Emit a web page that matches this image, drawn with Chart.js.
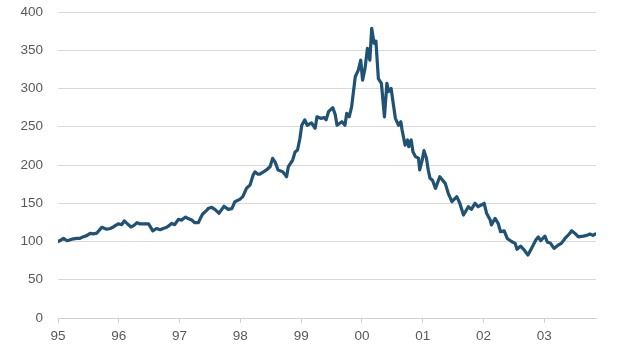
<!DOCTYPE html>
<html>
<head>
<meta charset="utf-8">
<script src="https://cdn.jsdelivr.net/npm/chart.js@4/dist/chart.umd.min.js"></script>
<style>
  html, body { margin: 0; padding: 0; background: #ffffff; }
  #wrap { width: 619px; height: 355px; position: relative; }
</style>
</head>
<body>
<div id="wrap"><canvas id="c" width="619" height="355"></canvas></div>
<script>
// Time in decimal years
const years = [
  1995.00,1995.05,1995.09,1995.15,1995.23,1995.31,1995.36,1995.41,1995.48,1995.53,
  1995.58,1995.64,1995.72,1995.80,1995.86,1995.91,1995.99,1996.05,1996.09,1996.13,
  1996.20,1996.25,1996.30,1996.35,1996.40,1996.49,1996.56,1996.62,1996.68,1996.73,
  1996.79,1996.87,1996.92,1996.98,1997.03,1997.10,1997.14,1997.20,1997.25,1997.31,
  1997.34,1997.38,1997.45,1997.47,1997.53,1997.58,1997.65,1997.73,1997.80,1997.86,
  1997.91,1997.99,1998.04,1998.10,1998.16,1998.21,1998.24,1998.29,1998.32,1998.38,
  1998.43,1998.49,1998.53,1998.57,1998.62,1998.70,1998.73,1998.76,1998.79,1998.86,
  1998.90,1998.94,1998.98,1999.01,1999.06,1999.10,1999.17,1999.23,1999.26,1999.32,
  1999.38,1999.41,1999.45,1999.52,1999.56,1999.59,1999.67,1999.72,1999.75,1999.79,
  1999.83,1999.89,1999.94,1999.98,2000.01,2000.05,2000.09,2000.13,2000.16,2000.20,
  2000.23,2000.27,2000.32,2000.37,2000.41,2000.44,2000.48,2000.51,2000.55,2000.60,
  2000.64,2000.66,2000.71,2000.75,2000.77,2000.81,2000.84,2000.88,2000.93,2000.95,
  2000.99,2001.02,2001.06,2001.09,2001.12,2001.16,2001.21,2001.28,2001.37,2001.42,
  2001.48,2001.56,2001.61,2001.67,2001.75,2001.80,2001.86,2001.91,2001.97,2002.01,
  2002.05,2002.11,2002.13,2002.19,2002.24,2002.28,2002.34,2002.39,2002.46,2002.52,
  2002.55,2002.61,2002.66,2002.73,2002.79,2002.86,2002.90,2002.94,2003.01,2003.05,
  2003.10,2003.16,2003.23,2003.28,2003.34,2003.41,2003.45,2003.50,2003.56,2003.64,
  2003.70,2003.75,2003.80,2003.84
];
// Index level
const values = [
  100,102,104,101,103,104,104,106,108,110.7,
  110,111,118.5,116,117,119,123,122,127,124,
  119,121,124.6,123,123,123,114,117,115.4,117,
  118.5,123.6,122,129,128,132,130,128,124.6,124.6,
  130,136,141,143,144.7,142,137,146,142,143,
  152,155,158.6,169.5,174,187,191,188,188,191,
  193.5,198,208.7,204,193.5,191,188,184.7,198,206.5,
  217,219.6,235,252,259,252,255,248,263,261,
  262,259,269.7,275,266,252,256.6,252,267.6,263,
  276,315.4,324,337,311,326,352.5,337,378.7,359,
  362,313,306.8,263,306.8,296,300,283,261,252,
  256.6,245.8,226,232.7,224,232.7,217,211,209,193.5,
  206,218.7,209,193.5,182.6,180,169.5,184.7,176,163,
  152,158.6,150,134.6,145.5,142,150,145.5,148,150,
  137,128,121.6,130.3,123.8,112.8,114,104,100,97.6,
  89.8,94,89.8,82.4,91,102,106,101,107,99,
  98,91,95.4,97.6,104,109.8,114,110.8,106,107,
  108,109.8,108,109.8
];
const xStart = 1995;
const xEnd = 2003.85;
const yTicks = [0, 50, 100, 150, 200, 250, 300, 350, 400];

const points = years.map((t, i) => ({ x: t, y: values[i] }));
const fontFamily = "'Liberation Sans', Arial, sans-serif";

new Chart(document.getElementById('c'), {
  type: 'line',
  data: {
    datasets: [{
      data: points,
      borderColor: '#1f5274',
      borderWidth: 3.2,
      pointRadius: 0,
      tension: 0,
      borderJoinStyle: 'round',
      borderCapStyle: 'round'
    }]
  },
  options: {
    responsive: false,
    animation: false,
    devicePixelRatio: 1,
    layout: { padding: { left: 0, right: 23, top: 12, bottom: 0 } },
    plugins: { legend: { display: false }, tooltip: { enabled: false } },
    scales: {
      x: {
        type: 'linear',
        min: xStart,
        max: xEnd,
        afterFit: (s) => { s.height = 37; },
        grid: { drawOnChartArea: false, drawTicks: true, tickLength: 5, color: '#d0d0d0' },
        border: { display: true, color: '#d0d0d0', width: 1 },
        ticks: {
          stepSize: 1,
          includeBounds: false,
          maxRotation: 0,
          autoSkip: false,
          padding: 5,
          color: '#595959',
          font: { family: fontFamily, size: 13.5 },
          callback: (v) => String(Math.round(v) % 100).padStart(2, '0')
        }
      },
      y: {
        min: yTicks[0],
        max: yTicks[yTicks.length - 1],
        afterFit: (s) => { s.width = 58; s.paddingTop = 0; s.paddingBottom = 0; },
        afterBuildTicks: (s) => { s.ticks = yTicks.map(v => ({ value: v })); },
        grid: { drawTicks: false, color: '#d9d9d9', lineWidth: 1 },
        border: { display: false },
        ticks: {
          padding: 15,
          color: '#595959',
          font: { family: fontFamily, size: 13.5 }
        }
      }
    }
  }
});
</script>
</body>
</html>
